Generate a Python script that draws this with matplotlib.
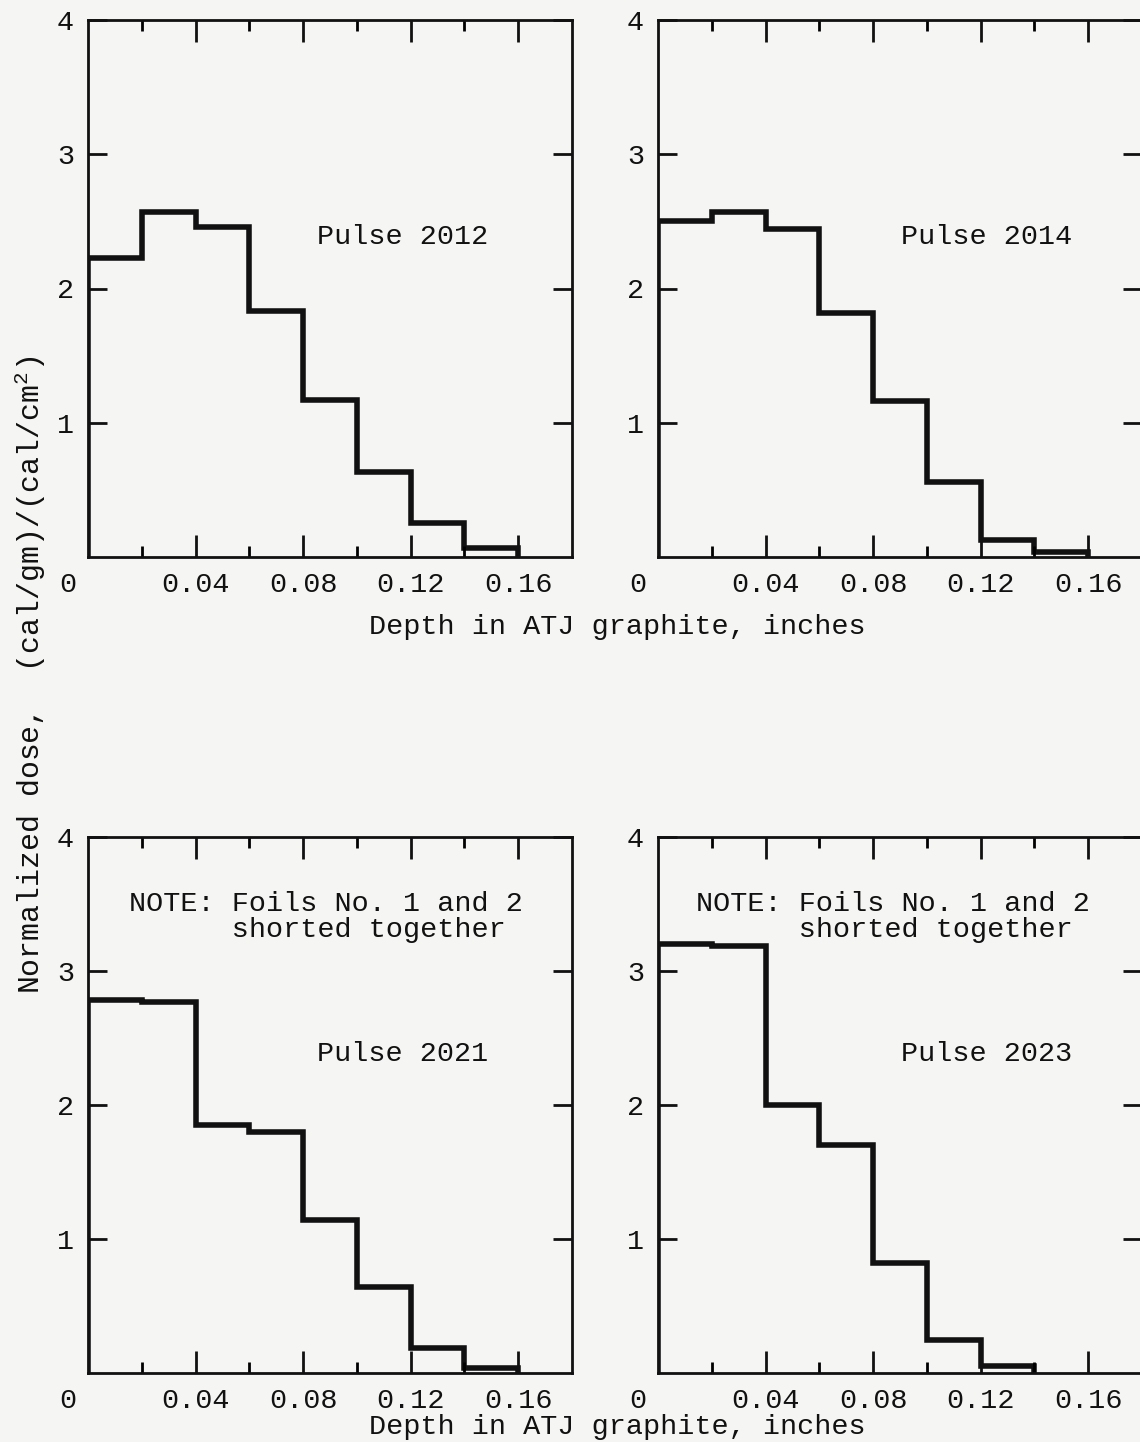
import numpy as np
import matplotlib
matplotlib.use('Agg')
import matplotlib.pyplot as plt

plt.rcParams['font.family'] = ['Liberation Mono', 'DejaVu Sans Mono']

# 数据: 每 0.02 英寸一个箔片的归一化剂量
edges_8 = [0, 0.02, 0.04, 0.06, 0.08, 0.10, 0.12, 0.14, 0.16]
edges_7 = [0, 0.02, 0.04, 0.06, 0.08, 0.10, 0.12, 0.14]
dose_2012 = [2.23, 2.57, 2.46, 1.83, 1.17, 0.63, 0.25, 0.07]
dose_2014 = [2.50, 2.57, 2.44, 1.82, 1.16, 0.56, 0.13, 0.04]
dose_2021 = [2.78, 2.77, 1.85, 1.80, 1.14, 0.64, 0.19, 0.04]
dose_2023 = [3.20, 3.19, 2.00, 1.70, 0.82, 0.25, 0.05]

pulse_names = ['Pulse 2012', 'Pulse 2014', 'Pulse 2021', 'Pulse 2023']
note = 'NOTE: Foils No. 1 and 2\n      shorted together'
xlabel = 'Depth in ATJ graphite, inches'
ylabel = r'Normalized dose,  (cal/gm)/(cal/cm$^{\mathregular{2}}$)'

bg = '#f5f5f3'
ink = '#111111'
fs = 20.5
fig = plt.figure(figsize=(11.4, 14.42), dpi=100, facecolor=bg)

W = 1140.0
H = 1442.0
def make_ax(left, right, top, bottom):
    return fig.add_axes([left / W, 1 - bottom / H, (right - left) / W, (bottom - top) / H])

ax1 = make_ax(88, 572, 20, 557)
ax2 = make_ax(658, 1142, 20, 557)
ax3 = make_ax(88, 572, 837, 1373)
ax4 = make_ax(658, 1142, 837, 1373)

panels = [(ax1, edges_8, dose_2012), (ax2, edges_8, dose_2014),
          (ax3, edges_8, dose_2021), (ax4, edges_7, dose_2023)]
pulse_x = [0.65, 0.678, 0.65, 0.678]

for i, (ax, ed, d) in enumerate(panels):
    ax.set_facecolor(bg)
    ax.stairs(d, ed, color=ink, lw=4, baseline=0)
    ax.set_xlim(0, 0.18)
    ax.set_ylim(0, 4)
    ax.set_xticks([0.04, 0.08, 0.12, 0.16])
    ax.set_xticklabels(['0.04', '0.08', '0.12', '0.16'], fontsize=fs)
    ax.set_xticks([0.02, 0.06, 0.10, 0.14], minor=True)
    ax.set_yticks([1, 2, 3, 4])
    ax.set_yticklabels(['1', '2', '3', '4'], fontsize=fs)
    ax.tick_params(axis='x', which='major', direction='in', length=16, width=2,
                   top=True, pad=11, colors=ink)
    ax.tick_params(axis='x', which='minor', direction='in', length=8, width=2,
                   top=True)
    ax.tick_params(axis='y', direction='in', length=14, width=2, right=True,
                   pad=10, colors=ink)
    for s in ax.spines.values():
        s.set_linewidth(2)
        s.set_color(ink)
    # 左下角单独的 "0"
    ax.text(-20 / 484, -28 / 536, '0', transform=ax.transAxes, fontsize=fs,
            ha='center', va='center', color=ink)
    ax.text(pulse_x[i], 2.38, pulse_names[i], transform=ax.get_yaxis_transform(),
            fontsize=fs, ha='center', va='center', color=ink)

ax3.text(0.085, 3.4, note, transform=ax3.get_yaxis_transform(), fontsize=fs,
         ha='left', va='center', linespacing=1.0, color=ink)
ax4.text(0.078, 3.4, note, transform=ax4.get_yaxis_transform(), fontsize=fs,
         ha='left', va='center', linespacing=1.0, color=ink)

fig.text(617 / W, 1 - 627 / H, xlabel, fontsize=fs, ha='center', va='center', color=ink)
fig.text(617 / W, 1 - 1427 / H, xlabel, fontsize=fs, ha='center', va='center', color=ink)
fig.text(30 / W, 1 - 675 / H, ylabel, fontsize=21.5, rotation=90, ha='center', va='center',
         color=ink)

fig.savefig('out.png', dpi=100, facecolor=bg)
